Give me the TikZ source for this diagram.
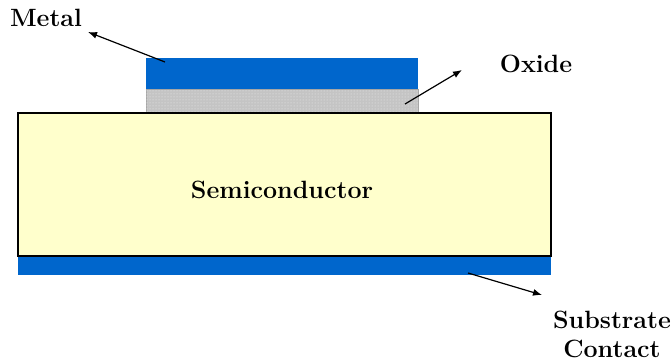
\documentclass[tikz,border=0pt]{standalone}
\usepackage{xcolor}
\usetikzlibrary{patterns,arrows.meta}
\definecolor{metalblue}{HTML}{0066CC}
\definecolor{oxidegray}{HTML}{C4C4C4}
\definecolor{semiyellow}{HTML}{FFFFCC}

\begin{document}
\begin{tikzpicture}[x=1pt,y=-1pt,
  point/.style={coordinate},
  layer/.style={rectangle, inner sep=0pt, outer sep=0pt, anchor=north west},
  label/.style={font=\fontsize{25}{29}\selectfont\bfseries, text=black, align=center},
  every path/.style={line width=1.2pt}]
\useasboundingbox (0,0) rectangle (672,364);
\node[layer, fill=metalblue, minimum width=272pt, minimum height=31pt] (metal) at (146,58) {};
\node[layer, draw=gray!70, line width=0.6pt, fill=oxidegray, postaction={pattern=dots, pattern color=white!85!gray}, minimum width=272pt, minimum height=24pt] (oxide) at (146,89) {};
\node[layer, fill=metalblue, minimum width=533pt, minimum height=19pt] (contact) at (18,256) {};
\node[layer, draw=black, line width=1.3pt, fill=semiyellow, minimum width=533pt, minimum height=143pt] (semi) at (18,113) {};
\node[label] (semilabel) at (282,190) {Semiconductor};
\node[label] (metallabel) at (46,18) {Metal};
\node[label] (oxidelabel) at (536,64) {Oxide};
\node[label] (contactlabel) at (612,334) {Substrate\\Contact};
\node[point] (metaltail) at (165,62) {};
\node[point] (metalhead) at (88,32) {};
\node[point] (oxidetail) at (405,104) {};
\node[point] (oxidehead) at (462,70) {};
\node[point] (contacttail) at (468,273) {};
\node[point] (contacthead) at (542,295) {};
\draw[-{Latex[length=9pt,width=7pt]}] (metaltail) -- (metalhead);
\draw[-{Latex[length=9pt,width=7pt]}] (oxidetail) -- (oxidehead);
\draw[-{Latex[length=9pt,width=7pt]}] (contacttail) -- (contacthead);
\end{tikzpicture}
\end{document}
